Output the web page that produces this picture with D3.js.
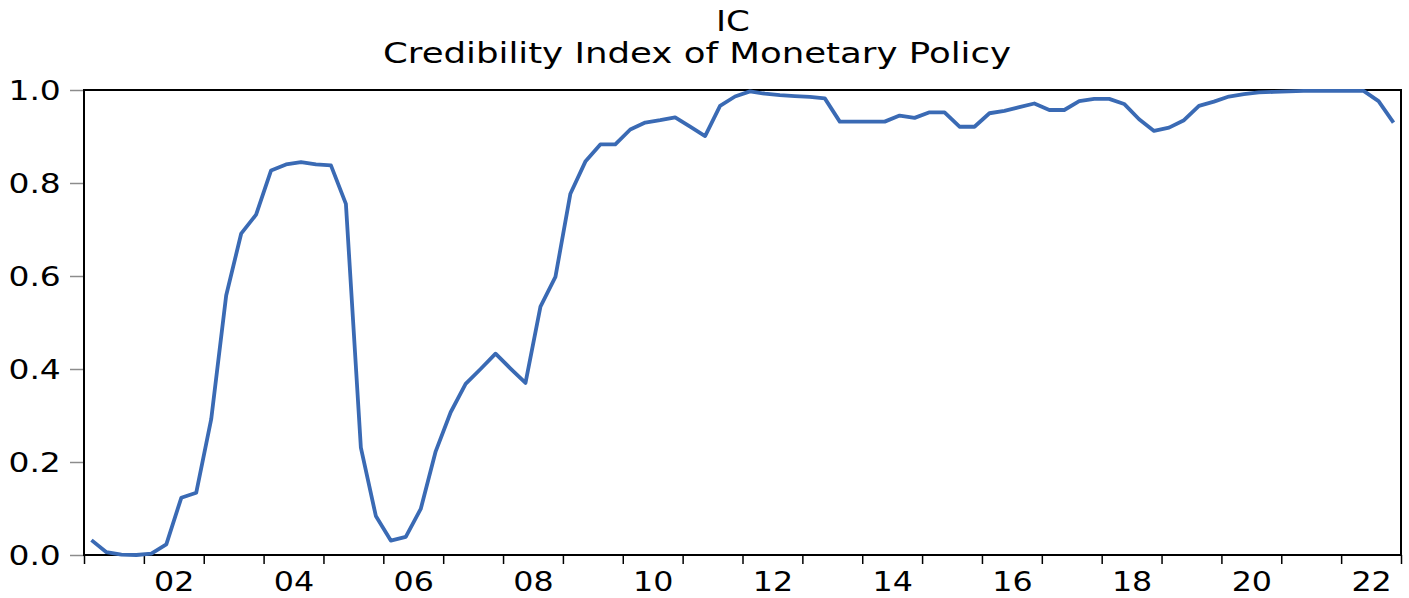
<!DOCTYPE html>
<html>
<head>
<meta charset="utf-8">
<script src="https://cdn.jsdelivr.net/npm/d3@7"></script>
<style>
  body { margin: 0; background: #fff; }
  text { font-family: "DejaVu Sans", Verdana, sans-serif; }
</style>
</head>
<body>
<div id="chart"></div>
<script>
// quarterly series, 2001Q1 .. 2022Q4
var startYear = 2001;
var quarters = ["Q1", "Q2", "Q3", "Q4"];
var icValues = [
  0.032, 0.006, 0.001, 0.000,   // 2001
  0.003, 0.023, 0.123, 0.134,   // 2002
  0.292, 0.558, 0.691, 0.732,   // 2003
  0.827, 0.840, 0.845, 0.840,   // 2004
  0.838, 0.755, 0.231, 0.084,   // 2005
  0.031, 0.039, 0.099, 0.223,   // 2006
  0.307, 0.368, 0.400, 0.433,   // 2007
  0.401, 0.370, 0.534, 0.598,   // 2008
  0.777, 0.846, 0.883, 0.883,   // 2009
  0.915, 0.930, 0.935, 0.941,   // 2010
  0.921, 0.901, 0.966, 0.986,   // 2011
  0.997, 0.992, 0.989, 0.987,   // 2012
  0.985, 0.982, 0.932, 0.932,   // 2013
  0.932, 0.932, 0.945, 0.940,   // 2014
  0.952, 0.952, 0.921, 0.921,   // 2015
  0.950, 0.955, 0.963, 0.971,   // 2016
  0.957, 0.957, 0.976, 0.981,   // 2017
  0.981, 0.970, 0.937, 0.912,   // 2018
  0.919, 0.935, 0.966, 0.975,   // 2019
  0.986, 0.991, 0.995, 0.996,   // 2020
  0.997, 0.998, 0.998, 0.998,   // 2021
  0.998, 0.998, 0.976, 0.930    // 2022
];
var yTicks = [0.0, 0.2, 0.4, 0.6, 0.8, 1.0];
var xLabelYears = [2002, 2004, 2006, 2008, 2010, 2012, 2014, 2016, 2018, 2020, 2022];

var titleText = "IC";
var subtitleText = "Credibility Index of Monetary Policy";

// build the period table from the arrays
var data = icValues.map(function(v, i) {
  return { year: startYear + Math.floor(i / 4), q: i % 4, value: v };
});
var endYear = startYear + icValues.length / 4;

var W = 1409, H = 598;
var margin = {top: 90, right: 8, bottom: 43, left: 84},
  width = W - margin.left - margin.right,
  height = H - margin.top - margin.bottom;

var stretch = 1.22;   // the original text is wide

var svg = d3.select("#chart")
  .append("svg")
    .attr("width", W)
    .attr("height", H);

var g = svg.append("g")
  .attr("transform", "translate(" + margin.left + "," + margin.top + ")");

var x = d3.scaleLinear()
  .domain([startYear, endYear])
  .range([0, width]);

var y = d3.scaleLinear()
  .domain([0, 1])
  .range([height, 0]);

// left axis, grey ticks pointing out
var yAxis = g.append("g")
  .call(d3.axisLeft(y).tickValues(yTicks).tickSize(14).tickPadding(5)
    .tickFormat(d3.format(".1f")));
yAxis.select(".domain").remove();
yAxis.selectAll("line").attr("stroke", "#8c8c8c").attr("stroke-width", 1.5);
yAxis.selectAll("text")
  .style("font-size", "27px")
  .attr("fill", "#000")
  .attr("dy", "0.36em")
  .attr("transform", "scale(" + stretch + ",1)");

// bottom axis: a tick at every year start
var xTicks = g.append("g")
  .attr("transform", "translate(0," + height + ")")
  .call(d3.axisBottom(x).tickValues(d3.range(startYear, endYear + 1)).tickSize(9).tickFormat(""));
xTicks.select(".domain").remove();
xTicks.selectAll("line").attr("stroke", "#000").attr("stroke-width", 1.5);

// year labels centred under each year
var xLabels = g.append("g")
  .attr("transform", "translate(0," + height + ")")
  .call(d3.axisBottom(x)
    .tickValues(xLabelYears.map(function(yr) { return yr + 0.5; }))
    .tickSize(0).tickPadding(18)
    .tickFormat(function(d) { return d3.format("02d")(Math.floor(d) % 100); }));
xLabels.select(".domain").remove();
xLabels.selectAll("text")
  .style("font-size", "26px")
  .attr("fill", "#000")
  .attr("transform", "scale(" + stretch + ",1)");

// frame
g.append("rect")
  .attr("x", 0)
  .attr("y", 0)
  .attr("width", width)
  .attr("height", height)
  .attr("fill", "none")
  .attr("stroke", "#000")
  .attr("stroke-width", 2);

// the line
var line = d3.line()
  .x(function(d) { return x(d.year + (d.q + 0.5) / 4); })
  .y(function(d) { return y(d.value); });

g.append("path")
  .datum(data)
  .attr("fill", "none")
  .attr("stroke", "#3a6ab4")
  .attr("stroke-width", 3.8)
  .attr("stroke-linejoin", "round")
  .attr("d", line);

// titles
svg.append("text")
  .attr("text-anchor", "middle")
  .attr("transform", "translate(733,31) scale(" + stretch + ",1)")
  .style("font-size", "28px")
  .text(titleText);

svg.append("text")
  .attr("text-anchor", "middle")
  .attr("transform", "translate(697,63) scale(1.27,1)")
  .style("font-size", "28px")
  .text(subtitleText);
</script>
</body>
</html>
